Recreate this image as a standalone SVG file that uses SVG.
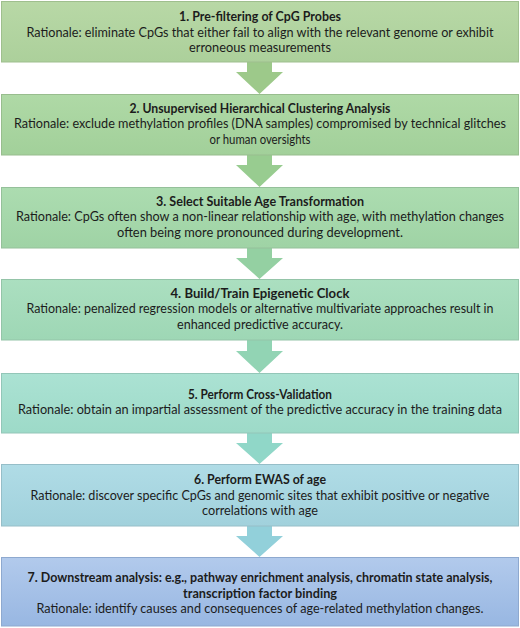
<svg xmlns="http://www.w3.org/2000/svg" width="520" height="628" viewBox="0 0 520 628">
<defs>
<linearGradient id="g1" x1="0" y1="0" x2="0" y2="1"><stop offset="0" stop-color="#b8d8a6"/><stop offset="1" stop-color="#acd09b"/></linearGradient>
<linearGradient id="g2" x1="0" y1="0" x2="0" y2="1"><stop offset="0" stop-color="#afd9a6"/><stop offset="1" stop-color="#a2d09a"/></linearGradient>
<linearGradient id="g3" x1="0" y1="0" x2="0" y2="1"><stop offset="0" stop-color="#acdcb0"/><stop offset="1" stop-color="#9fd3a5"/></linearGradient>
<linearGradient id="g4" x1="0" y1="0" x2="0" y2="1"><stop offset="0" stop-color="#abdfc0"/><stop offset="1" stop-color="#9ed7b5"/></linearGradient>
<linearGradient id="g5" x1="0" y1="0" x2="0" y2="1"><stop offset="0" stop-color="#abe2d3"/><stop offset="1" stop-color="#9ddac8"/></linearGradient>
<linearGradient id="g6" x1="0" y1="0" x2="0" y2="1"><stop offset="0" stop-color="#b0dce6"/><stop offset="1" stop-color="#a1d1dc"/></linearGradient>
<linearGradient id="g7" x1="0" y1="0" x2="0" y2="1"><stop offset="0" stop-color="#b2caec"/><stop offset="1" stop-color="#98b7e2"/></linearGradient>
</defs>
<style>
.box{stroke-width:1}
.t{font-family:Lato,"Liberation Sans",sans-serif;font-size:12.6px;fill:#1c1c1c;text-anchor:middle}
.b{font-weight:bold}
</style>
<rect width="520" height="628" fill="#ffffff"/>
<g id="connectors">
<polygon points="247,62 272,62 272,72 283,72 259.5,94 236,72 247,72" fill="#9dc98a"/>
<polygon points="247,155 272,155 272,165 283,165 259.5,187 236,165 247,165" fill="#98cc90"/>
<polygon points="247,248 272,248 272,258 283,258 259.5,279 236,258 247,258" fill="#94d0a2"/>
<polygon points="247,340 272,340 272,351 283,351 259.5,373 236,351 247,351" fill="#92d4b4"/>
<polygon points="247,433 272,433 272,443 283,443 259.5,464 236,443 247,443" fill="#90d7c8"/>
<polygon points="247,526 272,526 272,536 283,536 259.5,557 236,536 247,536" fill="#92d0da"/>
</g>
<g id="node1">
<rect class="box" x="1.5" y="1.5" width="517" height="60.5" fill="url(#g1)" stroke="#9fbf8e"/>
<text class="t b" x="260" y="21" textLength="162" lengthAdjust="spacingAndGlyphs">1. Pre-filtering of CpG Probes</text>
<text class="t" x="260" y="36.5" textLength="467" lengthAdjust="spacingAndGlyphs">Rationale: eliminate CpGs that either fail to align with the relevant genome or exhibit</text>
<text class="t" x="260" y="52" textLength="142" lengthAdjust="spacingAndGlyphs">erroneous measurements</text>
</g>
<g id="node2">
<rect class="box" x="1.5" y="94.5" width="517" height="60.5" fill="url(#g2)" stroke="#98bd8e"/>
<text class="t b" x="260" y="112.5" textLength="261" lengthAdjust="spacingAndGlyphs">2. Unsupervised Hierarchical Clustering Analysis</text>
<text class="t" x="260" y="128" textLength="492" lengthAdjust="spacingAndGlyphs">Rationale: exclude methylation profiles (DNA samples) compromised by technical glitches</text>
<text class="t" x="260" y="143.5" textLength="101" lengthAdjust="spacingAndGlyphs">or human oversights</text>
</g>
<g id="node3">
<rect class="box" x="1.5" y="187.5" width="517" height="60.5" fill="url(#g3)" stroke="#95c09a"/>
<text class="t b" x="260" y="205.5" textLength="208" lengthAdjust="spacingAndGlyphs">3. Select Suitable Age Transformation</text>
<text class="t" x="260" y="221" textLength="488" lengthAdjust="spacingAndGlyphs">Rationale: CpGs often show a non-linear relationship with age, with methylation changes</text>
<text class="t" x="260" y="236.5" textLength="286" lengthAdjust="spacingAndGlyphs">often being more pronounced during development.</text>
</g>
<g id="node4">
<rect class="box" x="1.5" y="279.5" width="517" height="60.5" fill="url(#g4)" stroke="#94c4a8"/>
<text class="t b" x="260" y="297.5" textLength="179" lengthAdjust="spacingAndGlyphs">4. Build/Train Epigenetic Clock</text>
<text class="t" x="260" y="313" textLength="467" lengthAdjust="spacingAndGlyphs">Rationale: penalized regression models or alternative multivariate approaches result in</text>
<text class="t" x="260" y="328.5" textLength="166" lengthAdjust="spacingAndGlyphs">enhanced predictive accuracy.</text>
</g>
<g id="node5">
<rect class="box" x="1.5" y="373.5" width="517" height="59.5" fill="url(#g5)" stroke="#93c6b8"/>
<text class="t b" x="260" y="398.5" textLength="144" lengthAdjust="spacingAndGlyphs">5. Perform Cross-Validation</text>
<text class="t" x="260" y="414" textLength="484" lengthAdjust="spacingAndGlyphs">Rationale: obtain an impartial assessment of the predictive accuracy in the training data</text>
</g>
<g id="node6">
<rect class="box" x="1.5" y="464.5" width="517" height="61.5" fill="url(#g6)" stroke="#96bec8"/>
<text class="t b" x="260" y="484" textLength="132" lengthAdjust="spacingAndGlyphs">6. Perform EWAS of age</text>
<text class="t" x="260" y="499.5" textLength="459" lengthAdjust="spacingAndGlyphs">Rationale: discover specific CpGs and genomic sites that exhibit positive or negative</text>
<text class="t" x="260" y="515" textLength="116" lengthAdjust="spacingAndGlyphs">correlations with age</text>
</g>
<g id="node7">
<rect class="box" x="1.5" y="557.5" width="517" height="68.5" fill="url(#g7)" stroke="#8ea9cf"/>
<text class="t b" x="260" y="582" textLength="465" lengthAdjust="spacingAndGlyphs">7. Downstream analysis: e.g., pathway enrichment analysis, chromatin state analysis,</text>
<text class="t b" x="260" y="597.5" textLength="154" lengthAdjust="spacingAndGlyphs">transcription factor binding</text>
<text class="t" x="260" y="613" textLength="447" lengthAdjust="spacingAndGlyphs">Rationale: identify causes and consequences of age-related methylation changes.</text>
</g>
</svg>
